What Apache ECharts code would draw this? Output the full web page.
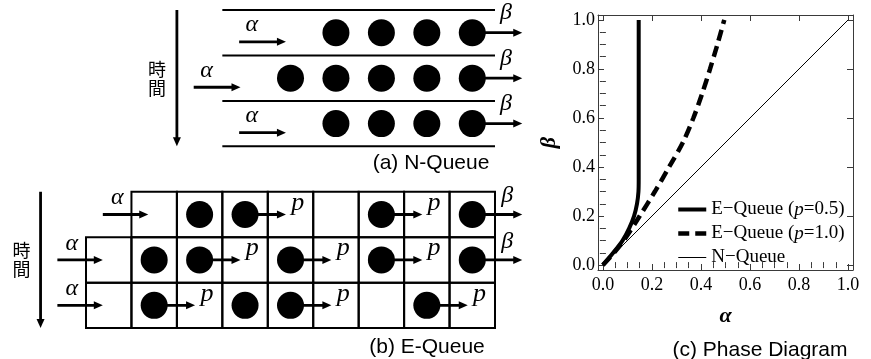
<!DOCTYPE html>
<html><head><meta charset="utf-8">
<script src="https://cdn.jsdelivr.net/npm/echarts@6/dist/echarts.min.js"></script>
<style>html,body{margin:0;padding:0;background:#fff}#c{width:871px;height:359px}</style>
</head><body><div id="c"></div>
<script>
// ---------------- (c) Phase diagram data ----------------
const axisTicks  = [0, 0.2, 0.4, 0.6, 0.8, 1.0];
const minorTicks = [0.05,0.1,0.15,0.25,0.3,0.35,0.45,0.5,0.55,0.65,0.7,0.75,0.85,0.9,0.95];
const eq05Alpha = [0, 0.042, 0.080, 0.107, 0.127, 0.139, 0.145, 0.146, 0.146, 0.146];
const eq05Beta  = [0, 0.05, 0.10, 0.15, 0.20, 0.25, 0.30, 0.35, 0.40, 1.00];
const eq10Alpha = [0, 0.045, 0.085, 0.150, 0.212, 0.270, 0.326, 0.369, 0.405, 0.437, 0.467, 0.495];
const eq10Beta  = [0, 0.05, 0.10, 0.20, 0.30, 0.40, 0.50, 0.60, 0.70, 0.80, 0.90, 1.00];
const nqAlpha = [0, 1];
const nqBeta  = [0, 1];
const seriesNames = ['E\u2212Queue (p=0.5)', 'E\u2212Queue (p=1.0)', 'N\u2212Queue'];
const axisNames = ['\u03b1', '\u03b2'];

// ---------------- (a) N-Queue schematic ----------------
const nFirstCol = 4;                       // first column shown with particles
const nLaneOccupancy = [[0,1,1,1,1],[1,1,1,1,1],[0,1,1,1,1]];
const nAlphaEntryCol = [4, 3, 4];           // column where alpha inflow arrives
const nLaneFrom = 3, nLaneTo = 9;           // columns spanned by lanes

// ---------------- (b) E-Queue schematic ----------------
// 0 empty, 1 particle, 2 particle hopping (p), 3 particle leaving (beta)
const eRowStart = [1, 0, 0];
const eRowCells = [[0,1,2,0,0,2,0,3],[0,1,2,0,2,0,2,0,3],[0,2,0,1,2,0,0,2,0]];
const eRowOffset = 4;

const captions = ['(a) N-Queue', '(b) E-Queue', '(c) Phase Diagram'];
const timeLabel = '時\n間';
const hopLabel = 'p';

// ---------------- build schematic primitives (in cell units) ----------------
const laneLines = [], cellRects = [], particles = [], arrows = [], vArrows = [], labels = [];
nLaneOccupancy.forEach((row, r) => {
  row.forEach((v, i) => { if (v) particles.push([nFirstCol + i + 0.5, r + 0.5]); });
  arrows.push([nAlphaEntryCol[r] - 0.63, nAlphaEntryCol[r] + 0.4, r + 0.7]);
  labels.push({x: nAlphaEntryCol[r] - 0.35, y: r + 0.33, t: axisNames[0], k: 'g'});
  const last = nFirstCol + row.length - 1;
  arrows.push([last + 0.5, last + 1.6, r + 0.5]);
  labels.push({x: last + 1.24, y: r + 0.07, t: axisNames[1], k: 'g'});
});
for (let r = 0; r <= nLaneOccupancy.length; r++) laneLines.push([nLaneFrom, nLaneTo, r]);
vArrows.push([nLaneFrom - 1, 0, nLaneOccupancy.length]);
labels.push({x: nLaneFrom - 1.44, y: nLaneOccupancy.length / 2, t: timeLabel, k: 'j'});

eRowCells.forEach((row, r) => {
  const y = eRowOffset + r, s = eRowStart[r];
  arrows.push([s - 0.63, s + 0.37, y + 0.5]);
  labels.push({x: s - 0.31, y: y + 0.14, t: axisNames[0], k: 'g'});
  row.forEach((v, i) => {
    const c = s + i;
    cellRects.push([c, y]);
    if (v >= 1) particles.push([c + 0.5, y + 0.5]);
    if (v === 2) { arrows.push([c + 0.5, c + 1.4, y + 0.5]); labels.push({x: c + 1.66, y: y + 0.25, t: hopLabel, k: 'p'}); }
    if (v === 3) { arrows.push([c + 0.5, c + 1.6, y + 0.5]); labels.push({x: c + 1.27, y: y + 0.09, t: axisNames[1], k: 'g'}); }
  });
});
vArrows.push([-1, eRowOffset, eRowOffset + eRowCells.length]);
labels.push({x: -1.42, y: eRowOffset + eRowCells.length / 2, t: timeLabel, k: 'j'});

// ---------------- chart ----------------
const chart = echarts.init(document.getElementById('c'), null, {renderer: 'canvas'});
const INK = '#000', FRAME = '#3a3a3a';
const serifName = 'Liberation Serif';

function renderLane(params, api) {
  const a = api.coord([api.value(0), api.value(2)]), b = api.coord([api.value(1), api.value(2)]);
  return {type: 'line', shape: {x1: a[0], y1: a[1], x2: b[0], y2: b[1]}, style: {stroke: INK, lineWidth: 2}};
}
function renderCell(params, api) {
  const a = api.coord([api.value(0), api.value(1)]), b = api.coord([api.value(0) + 1, api.value(1) + 1]);
  return {type: 'rect', shape: {x: a[0], y: a[1], width: b[0] - a[0], height: b[1] - a[1]}, style: {stroke: INK, fill: null, lineWidth: 2}};
}
function renderArrow(params, api) {
  const a = api.coord([api.value(0), api.value(2)]), b = api.coord([api.value(1), api.value(2)]);
  const L = 9, W = 4;
  return {type: 'group', children: [
    {type: 'line', shape: {x1: a[0], y1: a[1], x2: b[0] - L + 1, y2: b[1]}, style: {stroke: INK, lineWidth: 2.8}},
    {type: 'polygon', shape: {points: [[b[0], b[1]], [b[0] - L, b[1] - W], [b[0] - L, b[1] + W]]}, style: {fill: INK}}
  ]};
}
function renderVArrow(params, api) {
  const a = api.coord([api.value(0), api.value(1)]), b = api.coord([api.value(0), api.value(2)]);
  const L = 9, W = 4;
  return {type: 'group', children: [
    {type: 'line', shape: {x1: a[0], y1: a[1], x2: b[0], y2: b[1] - L + 1}, style: {stroke: INK, lineWidth: 2.8}},
    {type: 'polygon', shape: {points: [[b[0], b[1]], [b[0] - W, b[1] - L], [b[0] + W, b[1] - L]]}, style: {fill: INK}}
  ]};
}
const labelFonts = {
  g: {fontFamily: serifName, fontStyle: 'italic', fontSize: 24},
  p: {fontFamily: serifName, fontStyle: 'italic', fontSize: 26},
  j: {fontFamily: 'Noto Sans CJK JP', fontSize: 18, lineHeight: 19}
};
function renderLabel(params, api) {
  const d = labels[params.dataIndex];
  const p = api.coord([d.x, d.y]);
  const f = labelFonts[d.k];
  return {type: 'text', x: p[0], y: p[1], style: Object.assign({text: d.t, fill: INK, align: 'center', verticalAlign: 'middle'}, f)};
}

const mainAxisBase = {type: 'value', gridIndex: 1, min: -0.02, max: 1.02, splitLine: {show: false}};
function mkAxis(pos, opts) {
  return Object.assign({}, mainAxisBase, {position: pos}, opts);
}
const frameLine = {show: true, onZero: false, lineStyle: {color: FRAME, width: 1}};
const noLine = {show: false};
const tickFont = {fontFamily: serifName, fontSize: 18, color: '#000'};
function tickLabel(margin) {
  return Object.assign({customValues: axisTicks, formatter: v => '{t|' + v.toFixed(1) + '}', margin: margin,
    rich: {t: Object.assign({}, tickFont)}}, tickFont);
}

const xAxes = [
  {type: 'value', gridIndex: 0, min: -1.5, max: 10, show: false},
  mkAxis('bottom', {axisLine: frameLine, axisTick: {inside: true, length: 6, customValues: axisTicks, lineStyle: {color: FRAME}},
    axisLabel: tickLabel(6),
    name: axisNames[0], nameLocation: 'middle', nameGap: 35,
    nameTextStyle: {fontFamily: serifName, fontStyle: 'italic', fontWeight: 'bold', fontSize: 22, color: INK}}),
  mkAxis('bottom', {axisLine: noLine, axisTick: {inside: true, length: 3, customValues: minorTicks, lineStyle: {color: FRAME}}, axisLabel: {show: false}}),
  mkAxis('top', {axisLine: frameLine, axisTick: {inside: true, length: 6, customValues: axisTicks, lineStyle: {color: FRAME}}, axisLabel: {show: false}}),
  mkAxis('top', {axisLine: noLine, axisTick: {inside: true, length: 3, customValues: minorTicks, lineStyle: {color: FRAME}}, axisLabel: {show: false}})
];
const yAxes = [
  {type: 'value', gridIndex: 0, min: 0, max: 7.5, inverse: true, show: false},
  mkAxis('left', {axisLine: frameLine, axisTick: {inside: true, length: 6, customValues: axisTicks, lineStyle: {color: FRAME}},
    axisLabel: tickLabel(3),
    name: axisNames[1], nameLocation: 'middle', nameGap: 38,
    nameTextStyle: {fontFamily: serifName, fontStyle: 'italic', fontWeight: 'bold', fontSize: 22, color: INK}}),
  mkAxis('left', {axisLine: noLine, axisTick: {inside: true, length: 3, customValues: minorTicks, lineStyle: {color: FRAME}}, axisLabel: {show: false}}),
  mkAxis('right', {axisLine: frameLine, axisTick: {inside: true, length: 6, customValues: axisTicks, lineStyle: {color: FRAME}}, axisLabel: {show: false}}),
  mkAxis('right', {axisLine: noLine, axisTick: {inside: true, length: 3, customValues: minorTicks, lineStyle: {color: FRAME}}, axisLabel: {show: false}})
];

const zip = (a, b) => a.map((v, i) => [v, b[i]]);
const richText = n => n.replace('(p', '({i|p}');

const option = {
  animation: false,
  backgroundColor: '#fff',
  grid: [
    {left: 17.84, top: 10, width: 522.6, height: 340.8},
    {left: 598, top: 15, width: 255, height: 255}
  ],
  xAxis: xAxes,
  yAxis: yAxes,
  legend: {
    orient: 'vertical', left: 671, top: 195, itemWidth: 28, itemHeight: 10, itemGap: 5,
    selectedMode: false,
    itemStyle: {opacity: 0},
    data: [
      {name: seriesNames[0], lineStyle: {width: 4}},
      {name: seriesNames[1], lineStyle: {width: 4.5}},
      {name: seriesNames[2], lineStyle: {width: 1}}
    ],
    formatter: richText,
    textStyle: {fontFamily: serifName, fontSize: 19, color: INK, rich: {i: {fontFamily: serifName, fontSize: 19, fontStyle: 'italic', color: INK}}}
  },
  graphic: [
    {type: 'text', x: 431, y: 163, style: {text: captions[0], fontFamily: 'Liberation Sans', fontSize: 21, fill: INK, align: 'center', verticalAlign: 'middle'}},
    {type: 'text', x: 427, y: 347, style: {text: captions[1], fontFamily: 'Liberation Sans', fontSize: 21, fill: INK, align: 'center', verticalAlign: 'middle'}},
    {type: 'text', x: 760, y: 350, style: {text: captions[2], fontFamily: 'Liberation Sans', fontSize: 21, fill: INK, align: 'center', verticalAlign: 'middle'}}
  ],
  series: [
    {type: 'custom', xAxisIndex: 0, yAxisIndex: 0, silent: true, clip: false, renderItem: renderLane, data: laneLines},
    {type: 'custom', xAxisIndex: 0, yAxisIndex: 0, silent: true, clip: false, renderItem: renderCell, data: cellRects},
    {type: 'custom', xAxisIndex: 0, yAxisIndex: 0, silent: true, clip: false, renderItem: renderArrow, data: arrows},
    {type: 'custom', xAxisIndex: 0, yAxisIndex: 0, silent: true, clip: false, renderItem: renderVArrow, data: vArrows},
    {type: 'scatter', xAxisIndex: 0, yAxisIndex: 0, silent: true, symbol: 'circle', symbolSize: 27, itemStyle: {color: INK, opacity: 1}, data: particles, z: 3},
    {type: 'custom', xAxisIndex: 0, yAxisIndex: 0, silent: true, clip: false, renderItem: renderLabel, data: labels.map(d => [d.x, d.y]), z: 4},
    {name: seriesNames[2], type: 'line', xAxisIndex: 1, yAxisIndex: 1, symbol: 'none', data: zip(nqAlpha, nqBeta),
      itemStyle: {color: INK}, lineStyle: {color: INK, width: 1}, z: 2},
    {name: seriesNames[1], type: 'line', xAxisIndex: 1, yAxisIndex: 1, symbol: 'none', smooth: 0.3, data: zip(eq10Alpha, eq10Beta),
      itemStyle: {color: INK}, lineStyle: {color: INK, width: 4.5, type: [11, 6]}, z: 3},
    {name: seriesNames[0], type: 'line', xAxisIndex: 1, yAxisIndex: 1, symbol: 'none', smooth: 0.3, data: zip(eq05Alpha, eq05Beta),
      itemStyle: {color: INK}, lineStyle: {color: INK, width: 4}, z: 4}
  ]
};
chart.setOption(option);
</script></body></html>
